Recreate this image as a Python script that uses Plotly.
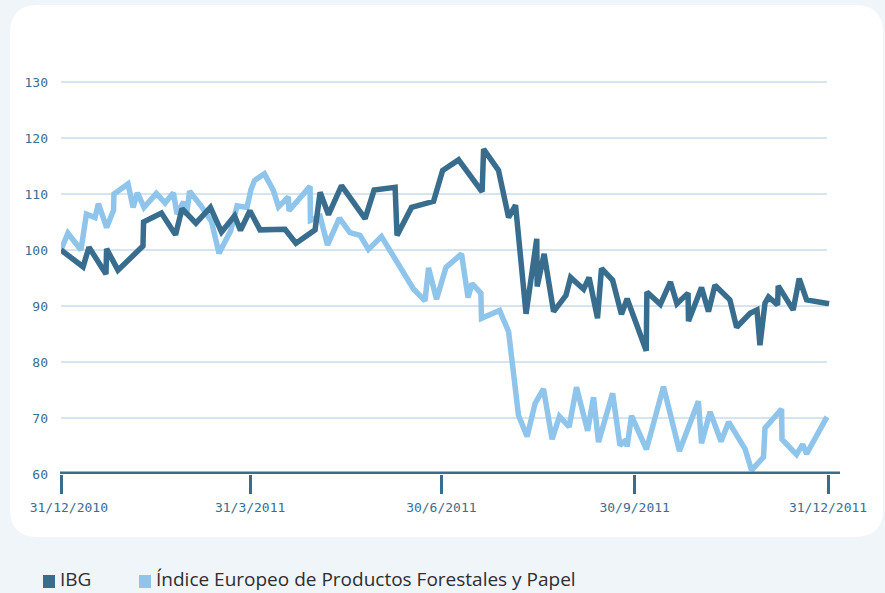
import pandas as pd
import plotly.graph_objects as go

# Day offsets from 31/12/2010 and index levels (base 100)
ibg_day = [0, 10.5, 13.3, 21.4, 21.7, 27.1, 39.0, 39.3, 47.8, 54.5, 57.6, 64.2, 71.1, 76.4,
           82.6, 85.4, 89.9, 94.7, 106.6, 111.8, 120.9, 123.3, 127.3, 133.5, 144.7, 149.0,
           159.0, 159.9, 166.8, 177.3, 181.6, 189.2, 200.4, 201.1, 208.2, 213.0, 216.3,
           221.3, 226.4, 226.6, 229.9, 234.4, 240.3, 242.5, 248.7, 251.3, 255.3, 257.2,
           262.5, 266.7, 269.4, 278.5, 278.8, 285.2, 290.0, 293.1, 298.4, 298.6, 304.8,
           308.1, 311.2, 318.3, 321.5, 327.9, 331.2, 332.6, 335.0, 336.7, 341.0, 341.3,
           348.4, 351.3, 354.8, 365.5]
ibg_value = [100.0, 97.0, 100.5, 95.7, 100.2, 96.4, 100.7, 105.0, 106.6, 102.7, 107.4, 104.8,
             107.6, 103.2, 106.1, 103.5, 107.0, 103.6, 103.7, 101.2, 103.6, 110.3, 106.3,
             111.5, 105.6, 110.7, 111.2, 102.6, 107.6, 108.7, 114.2, 116.1, 110.4, 118.0,
             114.2, 105.8, 108.0, 88.6, 102.0, 93.5, 99.3, 89.0, 91.9, 95.1, 93.0, 95.1, 87.8,
             96.7, 94.6, 88.5, 91.3, 82.0, 92.5, 90.3, 94.3, 90.4, 92.3, 87.3, 93.3, 89.0,
             93.7, 91.1, 86.2, 88.7, 89.3, 83.0, 90.5, 91.6, 90.2, 93.6, 89.3, 94.9, 91.1,
             90.4]

idx_day = [0, 3.3, 9.5, 12.1, 16.2, 17.8, 21.7, 25.0, 25.2, 31.9, 34.3, 36.4, 39.5, 45.4,
           49.5, 53.5, 55.2, 58.3, 59.7, 61.2, 66.6, 71.6, 75.2, 80.7, 83.8, 88.5, 90.4,
           92.1, 96.8, 101.1, 103.5, 108.2, 108.5, 118.5, 118.7, 123.3, 126.8, 132.5, 137.5,
           142.3, 146.3, 152.5, 167.8, 173.2, 174.9, 178.7, 183.2, 190.6, 193.7, 195.6,
           199.8, 200.1, 208.7, 213.0, 217.7, 221.8, 225.6, 229.6, 233.7, 237.2, 241.8,
           245.3, 250.6, 253.4, 255.8, 262.5, 266.0, 268.9, 269.4, 271.5, 278.6, 286.7,
           294.3, 303.3, 304.8, 308.9, 314.1, 317.7, 325.5, 328.6, 334.3, 335.0, 342.9,
           343.1, 350.0, 352.9, 354.8, 364.5]
idx_value = [100.0, 103.0, 100.0, 106.4, 105.8, 108.3, 104.0, 107.1, 110.0, 111.8, 107.6, 110.2,
             107.6, 110.1, 108.4, 110.2, 106.4, 108.6, 106.2, 110.5, 107.9, 105.1, 99.4,
             103.4, 107.9, 107.6, 110.8, 112.4, 113.6, 110.6, 107.7, 109.5, 107.0, 111.4,
             105.3, 106.0, 100.9, 105.7, 103.1, 102.6, 100.1, 102.4, 93.0, 90.9, 96.8, 91.2,
             96.9, 99.3, 91.5, 94.0, 92.3, 87.8, 89.2, 85.4, 70.5, 66.7, 72.6, 75.2, 66.2,
             70.3, 68.4, 75.5, 67.7, 73.7, 65.7, 74.4, 65.1, 66.1, 64.9, 70.4, 64.4, 75.6,
             64.1, 73.0, 65.5, 71.1, 65.8, 69.3, 64.5, 60.7, 63.0, 68.2, 71.6, 66.2, 63.5,
             65.3, 63.6, 70.2]

tick_dates = ["2010-12-31", "2011-03-31", "2011-06-30", "2011-09-30", "2011-12-31"]
tick_labels = ["\u00a0\u00a031/12/2010", "31/3/2011", "30/6/2011", "30/9/2011", "31/12/2011"]
y_ticks = [60, 70, 80, 90, 100, 110, 120, 130]

series_names = ["IBG", "Índice Europeo de Productos Forestales y Papel"]
DARK = "#386d8e"
LIGHT = "#8fc5eb"
TEXT = "#3a6d8f"
GRID = "#d2e5f0"
PAGE = "#f0f5fa"

base = pd.Timestamp("2010-12-31")
to_dates = lambda days: base + pd.to_timedelta(days, unit="D")

fig = go.Figure()
fig.add_trace(go.Scatter(x=to_dates(idx_day), y=idx_value, mode="lines",
                         line=dict(color=LIGHT, width=5.5), name=series_names[1]))
fig.add_trace(go.Scatter(x=to_dates(ibg_day), y=ibg_value, mode="lines",
                         line=dict(color=DARK, width=5.5), name=series_names[0]))

# plot area geometry in pixels
W, H = 885, 593
PL, PR, PT, PB = 61, 840, 54, 474
PW, PH = PR - PL, PB - PT


def X(px):
    return (px - PL) / PW


def Y(py):
    return (PB - py) / PH


shapes = []
# rounded white card behind the chart
L_, R_, T_, B_, r = 10, 883, 5, 537, 28
card = (f"M {X(L_ + r)},{Y(T_)} L {X(R_ - r)},{Y(T_)} Q {X(R_)},{Y(T_)} {X(R_)},{Y(T_ + r)} "
        f"L {X(R_)},{Y(B_ - r)} Q {X(R_)},{Y(B_)} {X(R_ - r)},{Y(B_)} "
        f"L {X(L_ + r)},{Y(B_)} Q {X(L_)},{Y(B_)} {X(L_)},{Y(B_ - r)} "
        f"L {X(L_)},{Y(T_ + r)} Q {X(L_)},{Y(T_)} {X(L_ + r)},{Y(T_)} Z")
shapes.append(dict(type="path", path=card, xref="paper", yref="paper",
                   fillcolor="white", line=dict(width=0), layer="below"))

# horizontal grid lines
for v in y_ticks[1:]:
    shapes.append(dict(type="line", xref="x", yref="y", x0="2010-12-30 12:00",
                       x1="2011-12-30 12:00", y0=v, y1=v,
                       line=dict(color=GRID, width=2), layer="below"))

# heavy baseline
shapes.append(dict(type="line", xref="paper", yref="y", x0=X(60), x1=1, y0=60, y1=60,
                   line=dict(color=DARK, width=5), layer="above"))

# legend swatches and labels
annotations = []
legend_y = 579
for sx, tx, name, col in [(43, 59, series_names[0], DARK), (139, 155, series_names[1], LIGHT)]:
    shapes.append(dict(type="rect", xref="paper", yref="paper",
                       x0=X(sx), x1=X(sx + 12), y0=Y(legend_y + 9), y1=Y(legend_y - 4),
                       fillcolor=col, line=dict(width=0)))
    annotations.append(dict(text=name, xref="paper", yref="paper", x=X(tx), y=Y(legend_y),
                            xanchor="left", yanchor="middle", showarrow=False, borderpad=0,
                            font=dict(family="Open Sans", size=19, color="#2e2e2e")))

fig.update_layout(
    width=W, height=H,
    margin=dict(l=PL, r=W - PR, t=PT, b=H - PB, pad=0),
    paper_bgcolor=PAGE, plot_bgcolor="rgba(0,0,0,0)",
    showlegend=False,
    shapes=shapes, annotations=annotations,
    xaxis=dict(type="date", range=[base, base + pd.Timedelta(days=370.7)],
               tickvals=tick_dates, ticktext=tick_labels,
               ticks="outside", ticklen=19, tickwidth=3, tickcolor=DARK,
               showgrid=False, zeroline=False, showline=False,
               tickfont=dict(family="DejaVu Sans Mono", size=13, color=TEXT),
               ticklabelstandoff=2),
    yaxis=dict(range=[60, 135], tickvals=y_ticks, ticks="",
               showgrid=False, zeroline=False, showline=False,
               tickfont=dict(family="DejaVu Sans Mono", size=13, color=TEXT),
               ticklabelstandoff=12),
)

fig.write_html("out.html")
